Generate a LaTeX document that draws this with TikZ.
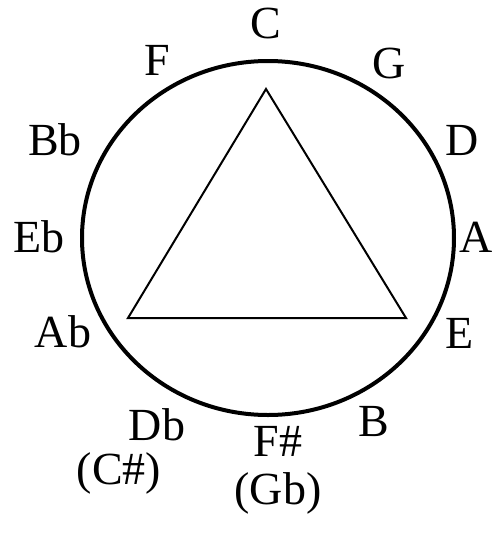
\documentclass[tikz,border=0pt]{standalone}
\usepackage{fontspec}
\setmainfont{Liberation Serif}
\usetikzlibrary{positioning}

\begin{document}
\begin{tikzpicture}[x=1pt,y=-1pt,
  key/.style={font=\fontsize{46}{48}\selectfont, inner sep=0pt, align=center}]
\useasboundingbox (0,0) rectangle (494,547);
% circle of fifths
\draw[line width=4pt] (268,238) ellipse [x radius=186, y radius=177];
% triangle C - E - Ab
\coordinate (tC) at (266,89);
\coordinate (tAb) at (128,318);
\coordinate (tE) at (406,318);
\draw[line width=2pt] (tC) -- (tAb) -- (tE) -- cycle;
% note names
\node[key] (C) at (266,23) {C};
\node[key] (G) at (389,63) {G};
\node[key] (D) at (462,140) {D};
\node[key] (A) at (476,237) {A};
\node[key] (E) at (460,333) {E};
\node[key] (B) at (374,422) {B};
\node[key] (Fs) at (278,470) {F\#\\(Gb)};
\node[key] (Db) at (157,425) {Db};
\node[key] (Cs) at (119,473) {(C\#)};
\node[key] (Ab) at (63,332) {Ab};
\node[key] (Eb) at (39,237) {Eb};
\node[key] (Bb) at (55,140) {Bb};
\node[key] (F) at (157,60) {F};
\end{tikzpicture}
\end{document}
